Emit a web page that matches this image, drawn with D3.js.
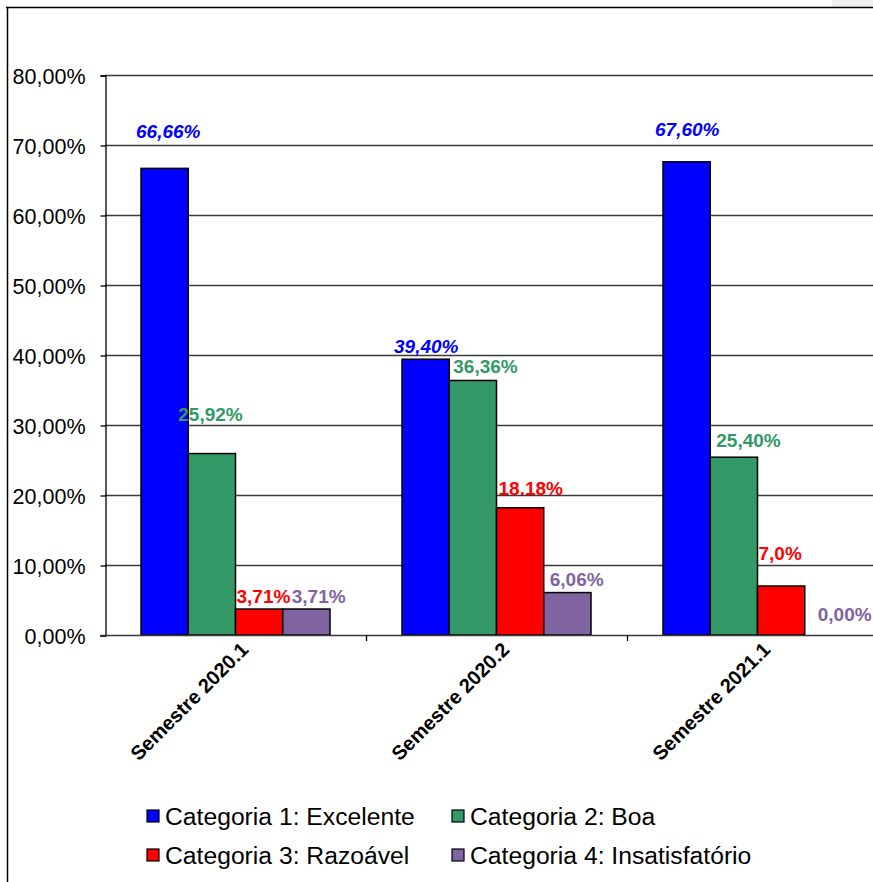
<!DOCTYPE html>
<html>
<head>
<meta charset="utf-8">
<script src="https://cdn.jsdelivr.net/npm/d3@7"></script>
<style>
  html, body { margin: 0; padding: 0; background: #fff; }
  svg { display: block; font-family: "Liberation Sans", Arial, sans-serif; }
</style>
</head>
<body>
<svg id="chart" width="873" height="882"></svg>
<script>
// Semesters on the x axis
const semesters = ["Semestre 2020.1", "Semestre 2020.2", "Semestre 2021.1"];

// Series (percent values per semester)
const seriesNames = [
  "Categoria 1: Excelente",
  "Categoria 2: Boa",
  "Categoria 3: Razoável",
  "Categoria 4: Insatisfatório"
];
const excelente      = [66.66, 39.40, 67.60];
const boa            = [25.92, 36.36, 25.40];
const razoavel       = [3.71, 18.18, 7.0];
const insatisfatorio = [3.71, 6.06, 0.00];

// Value labels as printed above each bar
const excelenteLabels      = ["66,66%", "39,40%", "67,60%"];
const boaLabels            = ["25,92%", "36,36%", "25,40%"];
const razoavelLabels       = ["3,71%", "18.18%", "7,0%"];
const insatisfatorioLabels = ["3,71%", "6,06%", "0,00%"];

// Y axis ticks
const yTicks = [0, 10, 20, 30, 40, 50, 60, 70, 80];

const seriesValues = [excelente, boa, razoavel, insatisfatorio];
const seriesLabels = [excelenteLabels, boaLabels, razoavelLabels, insatisfatorioLabels];
const colors = ["#0000FF", "#339966", "#FF0000", "#8064A2"];
const labelStyle = [
  { color: "#0000FF", italic: true },
  { color: "#339966", italic: false },
  { color: "#FF0000", italic: false },
  { color: "#8064A2", italic: false }
];
// Hand-placed label offsets: [dx from bar left, rise above bar top]
const labelNudge = [
  [[-5, 30], [-8, 6], [-8, 26]],
  [[-10, 33], [4, 7.5], [6, 10]],
  [[1, 6], [2, 13], [1, 26]],
  [[9, 6], [6, 7], [13, 14]]
];

const svg = d3.select("#chart");

// Outer frame
svg.append("rect").attr("x", 832).attr("y", 0).attr("width", 41).attr("height", 7).attr("fill", "#f0f0f0");
svg.append("line").attr("x1", 6).attr("x2", 873).attr("y1", 7.5).attr("y2", 7.5)
  .attr("stroke", "#000").attr("stroke-width", 1.5);
svg.append("line").attr("x1", 7.5).attr("x2", 7.5).attr("y1", 7).attr("y2", 882)
  .attr("stroke", "#000").attr("stroke-width", 1.5);

const plotLeft = 105, plotTop = 75, plotBottom = 635;
const groupWidth = 261;

const y = d3.scaleLinear().domain([0, 80]).range([plotBottom, plotTop]);
const x0 = d3.scaleBand().domain(semesters)
  .range([plotLeft, plotLeft + groupWidth * semesters.length]).padding(0);
const x1 = d3.scaleBand().domain(d3.range(seriesNames.length))
  .range([36, 225]).padding(0);

// Gridlines
svg.append("g").selectAll("line").data(yTicks.filter(t => t > 0)).join("line")
  .attr("x1", plotLeft).attr("x2", 873)
  .attr("y1", d => y(d) + 0.5).attr("y2", d => y(d) + 0.5)
  .attr("stroke", "#3a3a3a").attr("stroke-width", 1.3);

// Y axis
const yAxis = d3.axisLeft(y).tickValues(yTicks).tickSize(5).tickPadding(15)
  .tickFormat(d => d.toFixed(2).replace(".", ",") + "%");
const gy = svg.append("g").attr("transform", `translate(${plotLeft + 0.5},0.5)`).call(yAxis);
gy.select(".domain").attr("stroke", "#000").attr("stroke-width", 1.3);
gy.selectAll(".tick line").attr("stroke", "#000").attr("stroke-width", 1.3);
gy.selectAll(".tick text").attr("font-size", 21.5).attr("fill", "#000")
  .attr("font-family", "Liberation Sans, Arial, sans-serif").attr("dy", "0.36em");

// Bars
const groups = svg.append("g").selectAll("g").data(semesters).join("g")
  .attr("transform", d => `translate(${x0(d)},0)`);

groups.each(function(sem, gi) {
  const g = d3.select(this);
  seriesValues.forEach((vals, si) => {
    g.append("rect")
      .attr("x", x1(si))
      .attr("y", y(vals[gi]))
      .attr("width", x1.bandwidth())
      .attr("height", y(0) - y(vals[gi]))
      .attr("fill", colors[si])
      .attr("stroke", "#000")
      .attr("stroke-width", vals[gi] > 0 ? 1.5 : 0);
  });
});

// X axis line and category separators
svg.append("line").attr("x1", plotLeft - 5).attr("x2", 873)
  .attr("y1", plotBottom + 0.5).attr("y2", plotBottom + 0.5)
  .attr("stroke", "#3a3a3a").attr("stroke-width", 1.3);
svg.append("g").selectAll("line").data(semesters.slice(1)).join("line")
  .attr("x1", d => x0(d) + 0.5).attr("x2", d => x0(d) + 0.5)
  .attr("y1", plotBottom).attr("y2", plotBottom + 6)
  .attr("stroke", "#000").attr("stroke-width", 1.3);

// Rotated category labels
svg.append("g").selectAll("text").data(semesters).join("text")
  .attr("transform", d => `translate(${x0(d) + x0.bandwidth() / 2 + 14},${plotBottom + 16}) rotate(-45)`)
  .attr("text-anchor", "end")
  .attr("font-size", 20).attr("font-weight", "bold").attr("fill", "#000")
  .text(d => d);

// Value labels
groups.each(function(sem, gi) {
  const g = d3.select(this);
  seriesValues.forEach((vals, si) => {
    const [dx, rise] = labelNudge[si][gi];
    g.append("text")
      .attr("x", x1(si) + dx)
      .attr("y", y(vals[gi]) - rise)
      .attr("font-size", 19).attr("font-weight", "bold")
      .attr("font-style", labelStyle[si].italic ? "italic" : "normal")
      .attr("fill", labelStyle[si].color)
      .text(seriesLabels[si][gi]);
  });
});

// Legend
const legendPos = [[147, 825], [452, 825], [147, 864], [452, 864]];
const legend = svg.append("g").selectAll("g").data(seriesNames).join("g")
  .attr("transform", (d, i) => `translate(${legendPos[i][0]},${legendPos[i][1]})`);
legend.append("rect").attr("x", 0).attr("y", -15).attr("width", 12).attr("height", 12)
  .attr("fill", (d, i) => colors[i]).attr("stroke", "#000").attr("stroke-width", 1.2);
legend.append("text").attr("x", 18).attr("y", 0)
  .attr("font-size", 24.7).attr("fill", "#000").text(d => d);
</script>
</body>
</html>
